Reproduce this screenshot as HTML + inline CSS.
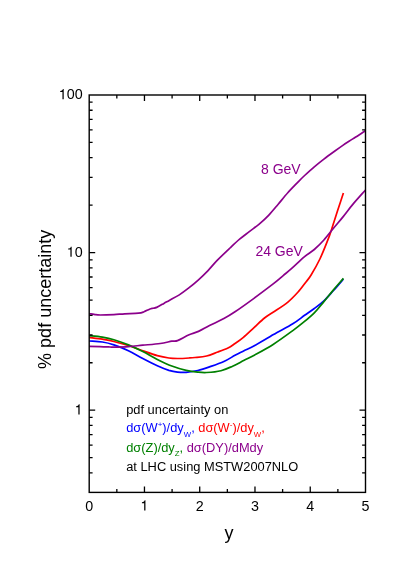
<!DOCTYPE html>
<html><head><meta charset="utf-8"><title>pdf uncertainty</title>
<style>
html,body{margin:0;padding:0;background:#fff;}
body{width:415px;height:588px;overflow:hidden;}
svg{display:block;will-change:transform;}
text{font-family:"Liberation Sans",sans-serif;}
</style></head><body>
<svg width="415" height="588" viewBox="0 0 415 588">
<rect width="415" height="588" fill="#fff"/>

<g fill="none" stroke-width="1.7" stroke-linejoin="round" stroke-linecap="butt">
<path stroke="#0000ff" d="M89.2 341.0C91.4 341.2 98.3 341.4 102.4 342.0C106.5 342.6 109.6 343.4 113.9 344.9C118.2 346.3 123.6 348.4 128.4 350.7C133.2 353.0 138.0 356.0 142.8 358.5C147.6 361.0 153.0 363.8 157.3 365.8C161.7 367.8 165.5 369.3 168.9 370.4C172.3 371.4 174.6 371.8 177.5 372.1C180.4 372.4 182.8 372.6 186.2 372.3C189.6 372.0 193.9 371.4 197.8 370.5C201.7 369.6 205.2 368.4 209.5 366.9C213.8 365.4 219.7 363.4 223.9 361.5C228.2 359.6 231.7 357.1 235.0 355.3C238.3 353.5 240.8 352.4 244.0 350.8C247.2 349.2 249.4 348.5 254.3 345.8C259.2 343.1 267.1 338.3 273.5 334.6C279.9 330.9 287.6 327.0 292.8 323.8C298.0 320.6 301.0 317.9 304.6 315.3C308.2 312.8 311.1 310.9 314.3 308.5C317.5 306.1 320.7 303.8 323.9 300.8C327.1 297.8 330.2 294.1 333.5 290.5C336.8 286.9 341.8 280.9 343.4 279.0"/>
<path stroke="#ff0000" d="M89.2 337.5C91.4 337.8 98.3 338.5 102.4 339.2C106.5 339.9 109.6 340.4 113.9 341.5C118.2 342.6 123.6 344.0 128.4 345.5C133.2 347.0 138.0 349.0 142.8 350.7C147.6 352.4 153.0 354.4 157.3 355.6C161.7 356.8 165.5 357.5 168.9 358.0C172.3 358.5 174.1 358.5 177.5 358.5C180.9 358.5 186.2 358.2 189.1 358.0C192.0 357.8 192.1 357.8 195.0 357.5C197.9 357.2 202.8 356.9 206.6 356.0C210.4 355.1 214.2 353.3 217.8 352.0C221.4 350.7 225.1 349.4 228.0 348.0C230.9 346.6 232.4 345.3 235.0 343.5C237.6 341.7 240.2 340.0 243.4 337.3C246.6 334.6 250.8 330.5 254.3 327.3C257.8 324.1 261.3 320.6 264.5 318.0C267.7 315.4 269.6 314.6 273.5 312.0C277.4 309.4 283.4 305.7 287.6 302.3C291.8 298.9 295.5 294.8 298.6 291.4C301.7 288.0 304.1 284.4 306.2 281.7C308.3 279.0 308.8 278.8 311.1 275.0C313.4 271.2 316.8 265.5 319.9 259.0C322.9 252.5 327.0 242.2 329.4 235.9C331.8 229.6 332.5 226.2 334.1 221.4C335.7 216.6 337.2 211.7 338.8 207.0C340.4 202.3 342.6 195.4 343.4 193.1"/>
<path stroke="#008000" d="M89.2 335.8C91.4 336.0 98.3 336.5 102.4 337.1C106.5 337.8 109.6 338.4 113.9 339.7C118.2 341.0 123.6 342.9 128.4 344.9C133.2 346.9 138.0 349.2 142.8 351.6C147.6 354.0 152.5 357.0 157.3 359.4C162.1 361.8 167.0 364.2 171.8 366.0C176.6 367.8 181.9 369.4 186.2 370.4C190.5 371.4 194.4 371.8 197.8 372.1C201.2 372.5 202.7 372.7 206.6 372.5C210.5 372.3 216.7 371.8 221.0 370.7C225.3 369.6 228.7 367.9 232.6 366.2C236.5 364.5 240.6 362.1 244.2 360.3C247.8 358.5 249.4 357.9 254.3 355.2C259.2 352.5 267.1 348.3 273.5 344.2C279.9 340.1 288.0 334.1 292.8 330.6C297.6 327.1 298.8 326.2 302.4 323.2C306.0 320.2 310.7 316.4 314.3 312.8C317.9 309.2 320.7 305.4 323.9 301.6C327.1 297.8 330.2 293.8 333.5 289.9C336.8 286.0 341.8 280.3 343.4 278.4"/>
<path stroke="#8b008b" d="M89.2 346.4C91.0 346.4 96.5 346.5 100.0 346.6C103.5 346.7 107.7 346.9 110.0 347.0C112.3 347.1 110.9 347.3 114.0 347.2C117.1 347.1 123.6 346.9 128.4 346.6C133.2 346.3 137.5 345.7 142.8 345.2C148.1 344.7 155.4 344.2 160.2 343.5C165.0 342.8 168.9 341.7 171.8 341.2C174.7 340.7 174.6 341.7 177.5 340.6C180.4 339.5 185.6 336.3 189.1 334.8C192.6 333.3 195.1 332.9 198.5 331.4C201.9 329.9 205.3 327.7 209.5 325.6C213.7 323.5 219.7 320.9 223.9 318.6C228.2 316.3 229.9 315.2 235.0 311.8C240.1 308.4 247.9 302.8 254.3 298.1C260.7 293.4 268.7 287.4 273.5 283.7C278.3 279.9 280.1 278.2 283.2 275.6C286.3 273.0 288.4 271.4 292.0 268.2C295.6 265.0 300.9 259.7 304.6 256.6C308.3 253.5 311.1 252.3 314.3 249.5C317.5 246.7 320.7 243.6 323.9 240.0C327.1 236.4 330.3 232.1 333.5 228.2C336.7 224.3 340.0 220.6 343.2 216.6C346.4 212.6 349.1 208.8 352.8 204.4C356.5 200.0 363.4 192.4 365.5 190.0"/>
<path stroke="#8b008b" d="M89.2 314.2C89.5 314.1 90.0 313.7 91.0 313.8C92.0 313.9 93.5 314.4 95.0 314.6C96.5 314.8 97.1 315.0 100.3 315.0C103.5 315.0 109.8 314.8 113.9 314.6C118.0 314.4 120.7 314.0 124.8 313.8C128.9 313.6 135.3 313.5 138.5 313.2C141.7 312.9 142.2 312.5 144.0 311.8C145.8 311.1 148.0 309.8 149.5 309.2C151.0 308.6 151.8 308.5 153.0 308.2C154.2 307.9 154.9 308.2 156.7 307.4C158.5 306.6 161.8 304.6 163.9 303.4C166.0 302.2 166.8 301.8 169.3 300.4C171.8 299.0 175.7 297.1 178.9 295.1C182.1 293.1 185.3 290.7 188.5 288.2C191.7 285.7 195.0 283.0 198.2 280.1C201.4 277.2 204.6 274.1 207.8 270.8C211.0 267.5 213.7 264.0 217.4 260.2C221.1 256.4 226.3 251.5 230.0 248.0C233.7 244.5 236.4 241.9 239.6 239.2C242.8 236.5 246.1 234.1 249.3 231.6C252.5 229.1 255.7 227.1 258.9 224.4C262.1 221.7 265.4 218.8 268.6 215.4C271.8 212.0 275.0 208.0 278.2 204.2C281.4 200.4 284.6 196.4 287.8 192.8C291.0 189.2 294.7 185.5 297.5 182.6C300.3 179.7 301.8 178.1 304.6 175.5C307.4 172.9 311.1 169.5 314.3 166.8C317.5 164.1 320.7 161.6 323.9 159.1C327.1 156.6 330.3 154.3 333.5 152.0C336.7 149.7 340.0 147.3 343.2 145.1C346.4 142.9 349.1 141.3 352.8 138.9C356.5 136.5 363.4 132.2 365.5 130.8"/>
</g>
<path d="M116.83 492.40v-3.4M116.83 95.00v3.4M144.46 492.40v-6.0M144.46 95.00v6.0M172.09 492.40v-3.4M172.09 95.00v3.4M199.72 492.40v-6.0M199.72 95.00v6.0M227.35 492.40v-3.4M227.35 95.00v3.4M254.98 492.40v-6.0M254.98 95.00v6.0M282.61 492.40v-3.4M282.61 95.00v3.4M310.24 492.40v-6.0M310.24 95.00v6.0M337.87 492.40v-3.4M337.87 95.00v3.4M89.20 472.92h3.4M365.50 472.92h-3.4M89.20 457.64h3.4M365.50 457.64h-3.4M89.20 445.16h3.4M365.50 445.16h-3.4M89.20 434.61h3.4M365.50 434.61h-3.4M89.20 425.47h3.4M365.50 425.47h-3.4M89.20 417.41h3.4M365.50 417.41h-3.4M89.20 410.20h6.0M365.50 410.20h-6.0M89.20 362.76h3.4M365.50 362.76h-3.4M89.20 335.01h3.4M365.50 335.01h-3.4M89.20 315.32h3.4M365.50 315.32h-3.4M89.20 300.04h3.4M365.50 300.04h-3.4M89.20 287.56h3.4M365.50 287.56h-3.4M89.20 277.01h3.4M365.50 277.01h-3.4M89.20 267.87h3.4M365.50 267.87h-3.4M89.20 259.81h3.4M365.50 259.81h-3.4M89.20 252.60h6.0M365.50 252.60h-6.0M89.20 205.16h3.4M365.50 205.16h-3.4M89.20 177.41h3.4M365.50 177.41h-3.4M89.20 157.72h3.4M365.50 157.72h-3.4M89.20 142.44h3.4M365.50 142.44h-3.4M89.20 129.96h3.4M365.50 129.96h-3.4M89.20 119.41h3.4M365.50 119.41h-3.4M89.20 110.27h3.4M365.50 110.27h-3.4M89.20 102.21h3.4M365.50 102.21h-3.4" stroke="#000" stroke-width="1.3" fill="none"/>
<rect x="89.20" y="95.00" width="276.30" height="397.40" fill="none" stroke="#000" stroke-width="1.4"/>
<g font-size="14.3" fill="#000">
<text x="85.22" y="510.50">0</text>
<path d="M259 0H347V-709H291C276-640 226-590 102-574V-505H259Z" transform="translate(140.48 510.50) scale(0.01430)" fill="#000"/>
<text x="195.74" y="510.50">2</text>
<text x="251.00" y="510.50">3</text>
<text x="306.26" y="510.50">4</text>
<text x="361.52" y="510.50">5</text>
<path d="M259 0H347V-709H291C276-640 226-590 102-574V-505H259Z" transform="translate(58.75 99.20) scale(0.01430)" fill="#000"/><text x="66.70" y="99.20">0</text><text x="74.65" y="99.20">0</text>
<path d="M259 0H347V-709H291C276-640 226-590 102-574V-505H259Z" transform="translate(66.70 256.80) scale(0.01430)" fill="#000"/><text x="74.65" y="256.80">0</text>
<path d="M259 0H347V-709H291C276-640 226-590 102-574V-505H259Z" transform="translate(74.65 414.40) scale(0.01430)" fill="#000"/>
</g>
<text font-size="18" x="224.6" y="539.3">y</text>
<text font-size="18" transform="translate(51.0 368.9) rotate(-90)">% pdf uncertainty</text>
<text font-size="14" fill="#8b008b" x="261" y="173.5">8 GeV</text>
<text font-size="14" fill="#8b008b" x="255.4" y="256.4">24 GeV</text>
<g font-size="12.85">
<text x="126.2" y="413.6" fill="#000">pdf uncertainty on</text>
<text x="126.2" y="432.3"><tspan fill="#0000ff">d&#963;(W<tspan font-size="8" dy="-5.5">+</tspan><tspan dy="5.5">)/dy</tspan><tspan font-size="7.8" dy="4.6">W</tspan><tspan dy="-4.6">,</tspan></tspan><tspan fill="#ff0000"> d&#963;(W<tspan font-size="8" dy="-5.5">-</tspan><tspan dy="5.5">)/dy</tspan><tspan font-size="7.8" dy="4.6">W</tspan><tspan dy="-4.6">,</tspan></tspan></text>
<text x="126.2" y="451.8"><tspan fill="#008000">d&#963;(Z)/dy<tspan font-size="7.8" dy="4.6">Z</tspan><tspan dy="-4.6">,</tspan></tspan><tspan fill="#8b008b"> d&#963;(DY)/dMdy</tspan></text>
<text x="126.2" y="470.8" fill="#000">at LHC using MSTW2007NLO</text>
</g>
</svg></body></html>
